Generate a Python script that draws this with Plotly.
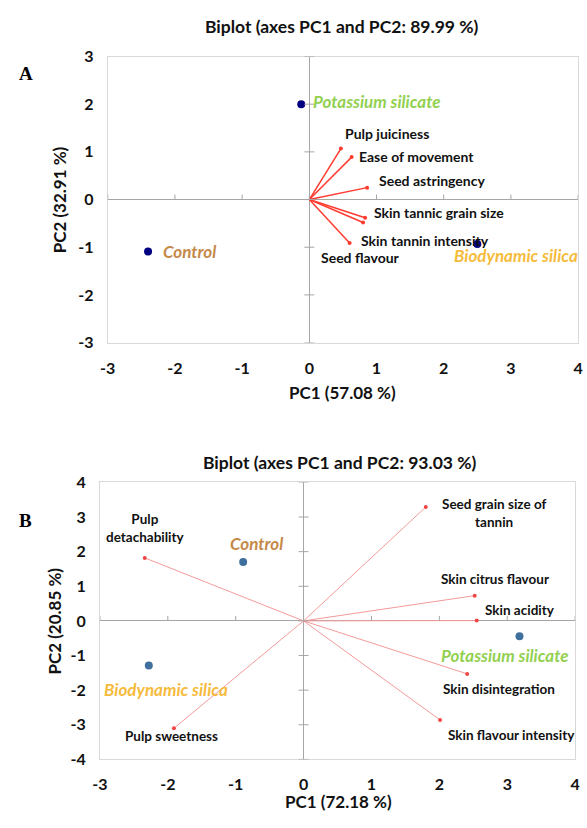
import plotly.graph_objects as go

# ---------------- Data: panel A ----------------
a_groups = ["Potassium silicate", "Control", "Biodynamic silica"]
a_group_pc1 = [-0.12, -2.40, 2.50]
a_group_pc2 = [2.00, -1.09, -0.93]

a_vars = ["Pulp juiciness", "Ease of movement", "Seed astringency",
          "Skin tannic grain size", "Skin tannin intensity", "Seed flavour"]
a_var_pc1 = [0.47, 0.63, 0.86, 0.83, 0.80, 0.60]
a_var_pc2 = [1.07, 0.89, 0.25, -0.38, -0.48, -0.91]

# ---------------- Data: panel B ----------------
b_groups = ["Control", "Biodynamic silica", "Potassium silicate"]
b_group_pc1 = [-0.89, -2.28, 3.18]
b_group_pc2 = [1.70, -1.29, -0.44]

b_vars = ["Pulp<br>detachability", "Seed grain size of<br>tannin", "Skin citrus flavour",
          "Skin acidity", "Skin disintegration", "Skin flavour intensity", "Pulp sweetness"]
b_var_pc1 = [-2.34, 1.80, 2.52, 2.55, 2.41, 2.01, -1.91]
b_var_pc2 = [1.82, 3.29, 0.73, 0.01, -1.53, -2.86, -3.10]

x_ticks = [-3, -2, -1, 0, 1, 2, 3, 4]
a_y_ticks = [-3, -2, -1, 0, 1, 2, 3]
b_y_ticks = [-4, -3, -2, -1, 0, 1, 2, 3, 4]

# ---------------- Styles ----------------
W, H = 587, 828
FONT = "Lato"
group_colors = {"Potassium silicate": "#92D050", "Control": "#C5894A",
                "Biodynamic silica": "#F6BB3C"}
# label pixel offsets (xshift, yshift, xanchor)
a_group_off = [(10, 3, "left"), (13, 0, "left"), (-25, -12, "left")]
a_var_off = [(2, 15, "left"), (5, 1, "left"), (10, 7, "left"), (7, 5, "left"),
             (-4, -18, "left"), (-31, -15, "left")]
b_group_off = [(13, 19, "center"), (17, -24, "center"), (-14, -19, "center")]
b_var_off = [(1, 30, "center"), (69, -6, "center"), (20, 17, "center"), (43, 11, "center"),
             (32, -15, "center"), (71, -15, "center"), (-2, -8, "center")]

fig = go.Figure()

# ---- Panel A vectors ----
for vx, vy in zip(a_var_pc1, a_var_pc2):
    fig.add_trace(go.Scatter(x=[0, vx], y=[0, vy], mode="lines",
                             line=dict(color="#FF3B30", width=1.5),
                             xaxis="x", yaxis="y", hoverinfo="skip", showlegend=False))
fig.add_trace(go.Scatter(x=a_var_pc1, y=a_var_pc2, mode="markers",
                         marker=dict(color="#FF3B30", size=4),
                         xaxis="x", yaxis="y", showlegend=False))
fig.add_trace(go.Scatter(x=a_group_pc1, y=a_group_pc2, mode="markers",
                         marker=dict(color="#000080", size=8),
                         xaxis="x", yaxis="y", showlegend=False))

# ---- Panel B vectors ----
for vx, vy in zip(b_var_pc1, b_var_pc2):
    fig.add_trace(go.Scatter(x=[0, vx], y=[0, vy], mode="lines",
                             line=dict(color="#F49A9A", width=1),
                             xaxis="x2", yaxis="y2", hoverinfo="skip", showlegend=False))
fig.add_trace(go.Scatter(x=b_var_pc1, y=b_var_pc2, mode="markers",
                         marker=dict(color="#F04545", size=4),
                         xaxis="x2", yaxis="y2", showlegend=False))
fig.add_trace(go.Scatter(x=b_group_pc1, y=b_group_pc2, mode="markers",
                         marker=dict(color="#3F6F9C", size=8),
                         xaxis="x2", yaxis="y2", showlegend=False))

annotations = []
for name, gx, gy, (dx, dy, anc) in zip(a_groups, a_group_pc1, a_group_pc2, a_group_off):
    annotations.append(dict(x=gx, y=gy, xref="x", yref="y", text="<b><i>%s</i></b>" % name,
                            showarrow=False, xanchor=anc, yanchor="middle", xshift=dx, yshift=dy,
                            font=dict(family=FONT, size=17, color=group_colors[name])))
for name, vx, vy, (dx, dy, anc) in zip(a_vars, a_var_pc1, a_var_pc2, a_var_off):
    annotations.append(dict(x=vx, y=vy, xref="x", yref="y", text="<b>%s</b>" % name,
                            showarrow=False, xanchor=anc, yanchor="middle", xshift=dx, yshift=dy,
                            font=dict(family=FONT, size=14, color="#111111")))
for name, gx, gy, (dx, dy, anc) in zip(b_groups, b_group_pc1, b_group_pc2, b_group_off):
    annotations.append(dict(x=gx, y=gy, xref="x2", yref="y2", text="<b><i>%s</i></b>" % name,
                            showarrow=False, xanchor=anc, yanchor="middle", xshift=dx, yshift=dy,
                            font=dict(family=FONT, size=17, color=group_colors[name])))
for name, vx, vy, (dx, dy, anc) in zip(b_vars, b_var_pc1, b_var_pc2, b_var_off):
    annotations.append(dict(x=vx, y=vy, xref="x2", yref="y2", text="<b>%s</b>" % name,
                            showarrow=False, xanchor=anc, yanchor="middle", xshift=dx, yshift=dy,
                            align="center",
                            font=dict(family=FONT, size=13.5, color="#111111")))

def paper_x(px):
    return px / W

def paper_y(py):
    return 1 - py / H

# titles, axis titles, panel letters
texts = [
    ("<b>Biplot (axes PC1 and PC2: 89.99 %)</b>", 342, 17, 0, 17.5),
    ("<b>PC1 (57.08 %)</b>", 342, 391, 0, 17),
    ("<b>PC2 (32.91 %)</b>", 53, 194, -90, 17),
    ("<b>Biplot (axes PC1 and PC2: 93.03 %)</b>", 340, 463, 0, 17.5),
    ("<b>PC1 (72.18 %)</b>", 338, 810, 0, 17),
    ("<b>PC2 (20.85 %)</b>", 48, 625, -90, 17),
]
for t, px, py, ang, sz in texts:
    annotations.append(dict(x=paper_x(px), y=paper_y(py), xref="paper", yref="paper",
                            text=t, showarrow=False, textangle=ang,
                            xanchor="center", yanchor="middle",
                            font=dict(family=FONT, size=sz, color="#111111")))
for letter, px, py in [("A", 18, 65), ("B", 18, 523)]:
    annotations.append(dict(x=paper_x(px), y=paper_y(py), xref="paper", yref="paper",
                            text="<b>%s</b>" % letter, showarrow=False,
                            xanchor="center", yanchor="middle",
                            font=dict(family="Liberation Serif", size=19, color="#000000")))

# tick marks on the zero axes
shapes = []
for xr, yr, xt, yt in [("x", "y", x_ticks, a_y_ticks), ("x2", "y2", x_ticks, b_y_ticks)]:
    for t in xt:
        shapes.append(dict(type="line", xref=xr, yref=yr, x0=t, x1=t,
                           ysizemode="pixel", yanchor=0, y0=0, y1=5,
                           line=dict(color="#A6A6A6", width=1)))
    for t in yt:
        shapes.append(dict(type="line", xref=xr, yref=yr, y0=t, y1=t,
                           xsizemode="pixel", xanchor=0, x0=-5, x1=5,
                           line=dict(color="#A6A6A6", width=1)))

axis_common = dict(showgrid=False, zeroline=True, zerolinecolor="#A6A6A6", zerolinewidth=1,
                   showline=True, linecolor="#D9D9D9", linewidth=1, mirror=True, ticks="",
                   tickfont=dict(family=FONT, size=16, color="#111111"))

fig.update_layout(
    width=W, height=H, margin=dict(l=0, r=0, t=0, b=0),
    paper_bgcolor="white", plot_bgcolor="white", showlegend=False,
    font=dict(family=FONT),
    xaxis=dict(domain=[paper_x(102), paper_x(583)], range=[-3, 4], tickvals=x_ticks,
               ticktext=["<b>%d</b>" % v for v in x_ticks], anchor="y",
               ticklabelstandoff=11, **axis_common),
    yaxis=dict(domain=[paper_y(340.4), paper_y(47.6)], range=[-3, 3], tickvals=a_y_ticks,
               ticktext=["<b>%d</b>" % v for v in a_y_ticks], anchor="x",
               ticklabelstandoff=10, **axis_common),
    xaxis2=dict(domain=[paper_x(94), paper_x(580)], range=[-3, 4], tickvals=x_ticks,
                ticktext=["<b>%d</b>" % v for v in x_ticks], anchor="y2",
                ticklabelstandoff=10, **axis_common),
    yaxis2=dict(domain=[paper_y(767), paper_y(483.5)], range=[-4, 4], tickvals=b_y_ticks,
                ticktext=["<b>%d</b>" % v for v in b_y_ticks], anchor="x2",
                ticklabelstandoff=10, **axis_common),
    annotations=annotations, shapes=shapes,
)

fig.write_html("out.html", config={"displayModeBar": False})

# remove the default page margin so the figure fills the window exactly
with open("out.html", "r", encoding="utf-8") as f:
    html = f.read()
html = html.replace("<head>", "<head><style>html,body{margin:0;padding:0;overflow:hidden;}</style>", 1)
with open("out.html", "w", encoding="utf-8") as f:
    f.write(html)
